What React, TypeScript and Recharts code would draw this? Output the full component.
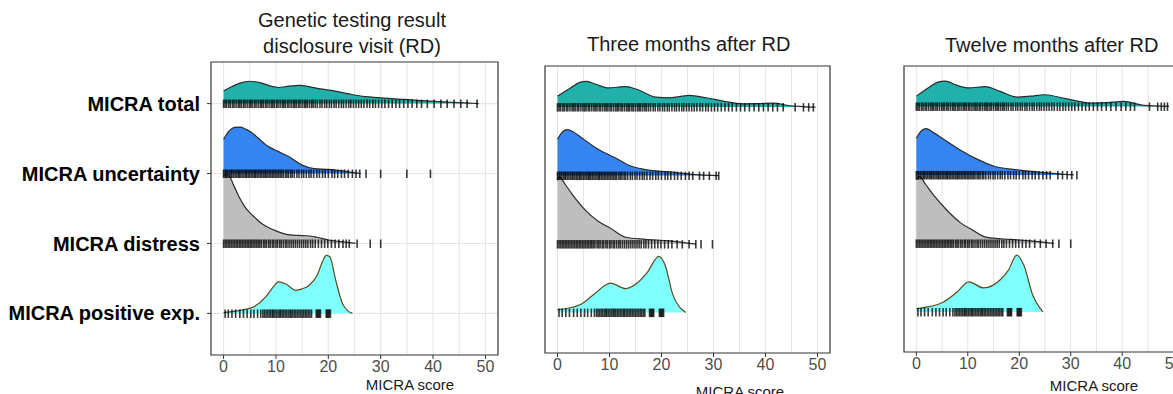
import React from "react";
import {
  ComposedChart,
  Area,
  Line,
  Scatter,
  XAxis,
  YAxis,
  CartesianGrid,
  ReferenceArea,
} from "recharts";

const FONT = '"Liberation Sans", Arial, sans-serif';

const measures = ["MICRA total", "MICRA uncertainty", "MICRA distress", "MICRA positive exp."];
// ridge baselines on the y scale, top to bottom
const baselines = [4, 3, 2, 1];
const xTicks = [0, 10, 20, 30, 40, 50];
const xGrid = [0, 5, 10, 15, 20, 25, 30, 35, 40, 45, 50];
const yTicks = [1, 2, 3, 4];

// density curves [score, height in ridge units]
const total1: [number, number][] = [
  [0, 0.18], [1.5, 0.24], [3, 0.29], [5, 0.32], [7, 0.3], [9, 0.25], [10.5, 0.23], [12.5, 0.25],
  [14.5, 0.26], [16.5, 0.24], [18.5, 0.21], [20.5, 0.19], [22.5, 0.16], [24.5, 0.13], [27, 0.1],
  [29.7, 0.085], [32, 0.07], [34.7, 0.06], [37, 0.045], [39.8, 0.035], [42, 0.025], [44.9, 0.015],
  [47, 0.007], [48.7, 0],
];
const uncert1: [number, number][] = [
  [0, 0.49], [1.2, 0.62], [2.1, 0.66], [3.2, 0.665], [4.2, 0.635], [5.3, 0.59], [6.7, 0.5], [8.1, 0.41],
  [9.2, 0.36], [10.3, 0.32], [12.5, 0.24], [15, 0.12], [17.3, 0.07], [20.1, 0.06], [22.6, 0.04],
  [24.5, 0.017], [26.2, 0],
];
const distress1: [number, number][] = [
  [0, 0.97], [0.8, 0.99], [2, 0.82], [3, 0.66], [4, 0.53], [5, 0.44], [6, 0.37], [7, 0.3], [8, 0.25],
  [10, 0.18], [12, 0.13], [14, 0.115], [16, 0.11], [18, 0.085], [20, 0.05], [22, 0.03], [24, 0.012],
  [25.2, 0],
];
const positive1: [number, number][] = [
  [0, 0.01], [2, 0.03], [3.7, 0.05], [5.9, 0.1], [8.1, 0.24], [9.5, 0.38], [10.5, 0.45], [11.9, 0.42],
  [13.8, 0.33], [15, 0.35], [16.3, 0.4], [17.9, 0.55], [19, 0.76], [19.6, 0.83], [20.3, 0.81],
  [21.4, 0.48], [22.7, 0.14], [23.7, 0.04], [24.6, 0],
];

const total2: [number, number][] = [
  [0, 0.16], [2.5, 0.28], [4.3, 0.36], [5.6, 0.375], [7.5, 0.33], [9.8, 0.28], [11.5, 0.29], [13.1, 0.3],
  [15.6, 0.25], [18.9, 0.146], [21.5, 0.136], [23.5, 0.155], [25.3, 0.17], [28.6, 0.136],
  [31.8, 0.088], [35.7, 0.048], [38.5, 0.05], [41.5, 0.058], [44.7, 0.02], [47, 0.008], [49.6, 0],
];
const uncert2: [number, number][] = [
  [0, 0.53], [1, 0.64], [1.9, 0.67], [3.2, 0.63], [4.7, 0.55], [7.9, 0.38], [11.1, 0.26], [13.7, 0.15],
  [16.9, 0.088], [21.5, 0.053], [26.6, 0.015], [31, 0],
];
const distress2: [number, number][] = [
  [0, 0.93], [0.3, 0.98], [1.5, 0.87], [2.7, 0.74], [5.3, 0.5], [7.9, 0.33], [10.2, 0.23],
  [13.1, 0.1], [16.9, 0.07], [21.5, 0.048], [26.6, 0],
];
const positive2: [number, number][] = [
  [0, 0.044], [2.5, 0.07], [4.7, 0.13], [7.2, 0.28], [10.2, 0.43], [13.1, 0.35], [15.6, 0.45],
  [17.2, 0.58], [19.5, 0.82], [20.8, 0.67], [22.1, 0.28], [24.7, 0],
];

const total3: [number, number][] = [
  [0, 0.15], [2.5, 0.28], [4.2, 0.355], [5.6, 0.37], [7.8, 0.31], [10.2, 0.27], [13.4, 0.29], [16.3, 0.22],
  [19.6, 0.136], [22.2, 0.15], [24.8, 0.17], [29.3, 0.11], [33.9, 0.048], [37, 0.055], [40.3, 0.073],
  [44.2, 0.015], [49.1, 0],
];
const uncert3: [number, number][] = [
  [0, 0.535], [1, 0.645], [1.9, 0.675], [3.5, 0.61], [5.3, 0.52], [8.6, 0.36], [11.8, 0.23], [15, 0.13],
  [19.6, 0.073], [24.8, 0.034], [30.6, 0],
];
const distress3: [number, number][] = [
  [0, 0.93], [0.6, 0.98], [1.8, 0.86], [3.4, 0.7], [6, 0.48], [8.6, 0.3], [10.8, 0.2], [13.7, 0.087],
  [18.3, 0.058], [22.2, 0.038], [26.7, 0],
];
const positive3: [number, number][] = [
  [0, 0.048], [2.7, 0.08], [5.3, 0.146], [7.9, 0.29], [10.2, 0.44], [13.1, 0.35], [16.3, 0.47],
  [17.9, 0.61], [19.5, 0.83], [20.9, 0.68], [22.5, 0.27], [24.6, 0],
];

// individual scores (rug marks)
const totalRugCore = [
  0, 0.3, 0.6, 1, 1.3, 1.7, 2, 2.4, 2.8, 3.1, 3.4, 3.8, 4.1, 4.5, 4.9, 5.2, 5.5, 5.9, 6.2, 6.6, 7, 7.3,
  7.6, 8, 8.3, 8.7, 9.1, 9.4, 9.7, 10.1, 10.4, 10.8, 11.2, 11.5, 11.8, 12.2, 12.5, 12.9, 13.3, 13.6,
  13.9, 14.3, 14.6, 15, 15.4, 15.7, 16, 16.4, 16.8, 17.1, 17.5, 17.9, 18.4, 18.8, 19.3, 19.7, 20.2,
  20.6, 21.1, 21.5, 22, 22.5, 22.9, 23.4, 23.9, 24.3, 24.8, 25.3, 25.8, 26.3, 26.8, 27.4, 27.9, 28.5,
  29, 29.6, 30.2, 30.8, 31.5, 32.2, 32.9, 33.6, 34.4, 35.2, 36, 36.9, 37.8,
];
const totalTail1 = [38.9, 40.2, 41.5, 42.7, 44, 45.3, 46.5, 48.4];
const totalTail2 = [38.7, 39.6, 40.5, 41.4, 42.3, 43.4, 45.7, 47.3, 48.3, 49.2];
const totalTail3 = [38.8, 39.8, 40.7, 41.6, 42.4, 45.3, 46.9, 47.6, 48.2, 48.8];

const uncertRugCore = [
  0, 0.3, 0.5, 0.8, 1.1, 1.4, 1.6, 1.9, 2.2, 2.5, 2.8, 3, 3.3, 3.6, 3.9, 4.2, 4.4, 4.7, 5, 5.3, 5.6,
  5.9, 6.1, 6.4, 6.7, 7, 7.3, 7.6, 7.9, 8.1, 8.4, 8.7, 9, 9.3, 9.6, 9.9, 10.2, 10.5, 10.8, 11.1, 11.4,
  11.8, 12.1, 12.4, 12.8, 13.1, 13.5, 14, 14.4, 14.9, 15.3, 15.8, 16.3, 16.7, 17.2, 17.8, 18.3, 18.9,
  19.4, 20, 20.7, 21.2, 21.8, 22.5, 23.1, 23.8, 24.6, 25.3, 26,
];
const uncertTail1 = [27.2, 30, 35, 39.5];
const uncertTail2 = [27.3, 28.1, 29.2, 30.5, 31];
const uncertTail3 = [27.5, 28.4, 29.3, 30.2, 31.2];

const distressRugCore = [
  0, 0.3, 0.6, 0.9, 1.2, 1.5, 1.8, 2.1, 2.4, 2.7, 3, 3.3, 3.6, 3.9, 4.2, 4.5, 4.8, 5.1, 5.4, 5.7, 6,
  6.3, 6.6, 6.9, 7.2, 7.6, 7.9, 8.2, 8.6, 8.9, 9.3, 9.6, 10, 10.3, 10.7, 11, 11.4, 11.8, 12.1, 12.5,
  12.9, 13.3, 13.7, 14.1, 14.5, 14.9, 15.3, 15.7, 16.1, 16.6, 17, 17.5, 18.1, 18.7, 19.3, 19.9, 20.6,
  21.3, 22,
];
const distressTail1 = [22.8, 23.4, 24, 25.5, 28, 30];
const distressTail2 = [23, 24, 25.3, 26.6, 27.6, 29.8];
const distressTail3 = [23, 24.1, 25.2, 26.5, 27.7, 30];

const positiveRug = [
  0.3, 0.9, 1.6, 2.3, 3.1, 3.8, 4.5, 5.2, 5.8, 6.5, 7.1, 7.5, 7.8, 8.1, 8.4, 8.7, 9, 9.3, 9.5, 9.8,
  10.1, 10.4, 10.7, 10.9, 11.2, 11.5, 11.8, 12.1, 12.4, 12.7, 12.9, 13.2, 13.5, 13.8, 14.1, 14.4,
  14.7, 15, 15.3, 15.6, 15.9, 16.2, 16.5, 16.8, 17.7, 17.9, 18.1, 18.3, 18.5, 19.6, 19.8, 20, 20.2,
  20.4,
];

const fills = ["#20B2AA", "#3584F0", "#BEBEBE", "#80FFFF"];
const outlines = ["#2b2b2b", "#2b2b2b", "#2b2b2b", "#5C4A1F"];

const ridge = (pts: [number, number][], base: number) =>
  pts.map(([x, h]) => ({ x, lo: base, hi: base + h }));
const rug = (xs: number[], base: number) => xs.map((x) => ({ x, y: base }));

const RugTick = (props: any) => {
  const { cx, cy } = props;
  if (cx == null || cy == null) return null;
  return (
    <line x1={cx} x2={cx} y1={cy - 4} y2={cy + 4.5} stroke="#000" strokeOpacity={0.78} strokeWidth={1.6} />
  );
};

interface PanelProps {
  left: number;
  width: number;
  axisWidth: number;
  top: number;
  xAxisHeight: number;
  yDomain: [number, number];
  densities: [number, number][][];
  rugs: number[][];
  showLabels: boolean;
}

function RidgePanel({ left, width, axisWidth, top, xAxisHeight, yDomain, densities, rugs, showLabels }: PanelProps) {
  const xDomain: [number, number] = [-2.4, 52.4];
  return (
    <div style={{ position: "absolute", left, top: 0 }}>
      <ComposedChart
        width={width}
        height={394}
        margin={{ top, right: 10, bottom: 0, left: 0 }}
      >
        <CartesianGrid
          stroke="#E6E6E6"
          strokeWidth={1.1}
          verticalValues={xGrid}
          horizontalValues={yTicks}
        />
        <XAxis
          type="number"
          dataKey="x"
          domain={xDomain}
          ticks={xTicks}
          allowDataOverflow
          height={xAxisHeight}
          axisLine={false}
          tickLine={{ stroke: "#333" }}
          tickSize={4}
          tickMargin={2}
          tick={{ fill: "#4D4D4D", fontSize: 16, fontFamily: FONT }}
        />
        <YAxis
          type="number"
          dataKey="y"
          domain={yDomain}
          ticks={yTicks}
          allowDataOverflow
          width={axisWidth}
          axisLine={false}
          tickLine={{ stroke: "#333" }}
          tickSize={4}
          tickMargin={7}
          tick={
            showLabels
              ? { fill: "#000", fontSize: 20, fontWeight: "bold", fontFamily: FONT }
              : false
          }
          tickFormatter={(v: number) => measures[baselines.indexOf(v)] ?? ""}
        />
        {densities.map((pts, i) => [
          <Area
            key={`a${i}`}
            data={ridge(pts, baselines[i])}
            dataKey={(d: any) => [d.lo, d.hi]}
            type="monotone"
            fill={fills[i]}
            fillOpacity={1}
            stroke="none"
            isAnimationActive={false}
          />,
          <Line
            key={`l${i}`}
            data={ridge(pts, baselines[i])}
            dataKey="hi"
            type="monotone"
            stroke={outlines[i]}
            strokeWidth={1.2}
            dot={false}
            activeDot={false}
            isAnimationActive={false}
          />,
          <Scatter
            key={`s${i}`}
            data={rug(rugs[i], baselines[i])}
            shape={RugTick}
            isAnimationActive={false}
          />,
        ])}
        <ReferenceArea
          x1={xDomain[0]}
          x2={xDomain[1]}
          y1={yDomain[0]}
          y2={yDomain[1]}
          fill="none"
          stroke="#333"
          strokeWidth={1.2}
          ifOverflow="visible"
        />
      </ComposedChart>
    </div>
  );
}

const titleStyle: React.CSSProperties = {
  position: "absolute",
  fontFamily: FONT,
  fontSize: 20,
  lineHeight: "26px",
  color: "#1a1a1a",
  textAlign: "center",
  whiteSpace: "nowrap",
};
const xLabelStyle: React.CSSProperties = {
  position: "absolute",
  fontFamily: FONT,
  fontSize: 15,
  lineHeight: "18px",
  color: "#1a1a1a",
  textAlign: "center",
  width: 200,
};

export default function App() {
  return (
    <div
      style={{
        position: "absolute",
        left: 0,
        top: 0,
        width: 1173,
        height: 394,
        overflow: "hidden",
        background: "#fff",
      }}
    >
      <RidgePanel
        left={0}
        width={508}
        axisWidth={211}
        top={62}
        xAxisHeight={39}
        yDomain={[0.405, 4.595]}
        densities={[total1, uncert1, distress1, positive1]}
        rugs={[
          [...totalRugCore, ...totalTail1],
          [...uncertRugCore, ...uncertTail1],
          [...distressRugCore, ...distressTail1],
          positiveRug,
        ]}
        showLabels
      />
      <RidgePanel
        left={520}
        width={320}
        axisWidth={25}
        top={66}
        xAxisHeight={41}
        yDomain={[0.41, 4.6]}
        densities={[total2, uncert2, distress2, positive2]}
        rugs={[
          [...totalRugCore, ...totalTail2],
          [...uncertRugCore, ...uncertTail2],
          [...distressRugCore, ...distressTail2],
          positiveRug,
        ]}
        showLabels={false}
      />
      <RidgePanel
        left={870}
        width={326}
        axisWidth={34}
        top={66}
        xAxisHeight={42}
        yDomain={[0.415, 4.59]}
        densities={[total3, uncert3, distress3, positive3]}
        rugs={[
          [...totalRugCore, ...totalTail3],
          [...uncertRugCore, ...uncertTail3],
          [...distressRugCore, ...distressTail3],
          positiveRug,
        ]}
        showLabels={false}
      />

      <div style={{ ...titleStyle, left: 252, top: 7, width: 200 }}>
        Genetic testing result
        <br />
        disclosure visit (RD)
      </div>
      <div style={{ ...titleStyle, left: 587, top: 31, width: 200 }}>Three months after RD</div>
      <div style={{ ...titleStyle, left: 945, top: 32, width: 200 }}>Twelve months after RD</div>

      <div style={{ ...xLabelStyle, left: 310, top: 376 }}>MICRA score</div>
      <div style={{ ...xLabelStyle, left: 640, top: 383 }}>MICRA score</div>
      <div style={{ ...xLabelStyle, left: 994, top: 377 }}>MICRA score</div>
    </div>
  );
}
